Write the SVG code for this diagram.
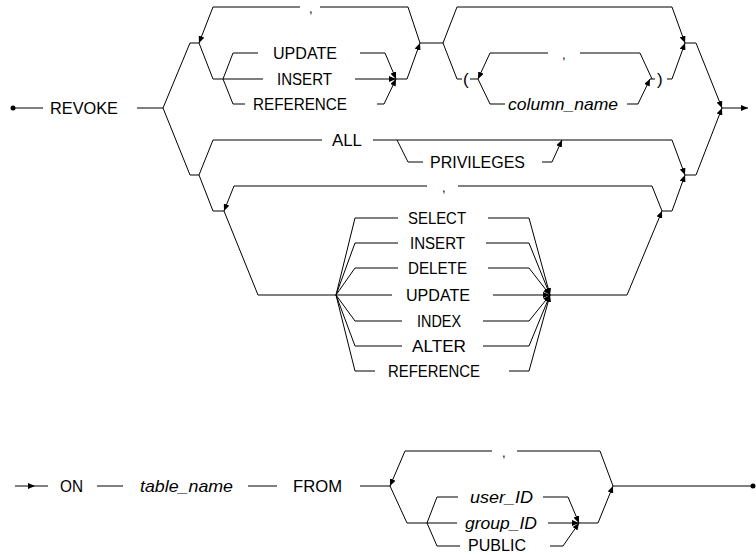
<svg xmlns="http://www.w3.org/2000/svg" width="756" height="555" viewBox="0 0 756 555">
<defs>
<marker id="ah" viewBox="0 0 7 6" refX="7" refY="3" markerWidth="7" markerHeight="6" markerUnits="userSpaceOnUse" orient="auto">
<path d="M0,0 L7,3 L0,6 z" fill="#000"/>
</marker>
</defs>
<style>
.c{fill:none;stroke:#000;stroke-width:1}
.a{marker-end:url(#ah)}
text{font-family:"Liberation Sans",Arial,sans-serif;font-size:17px;fill:#000}
.i{font-style:italic}
.cm{font-size:13px}
</style>
<rect width="756" height="555" fill="#fff"/>
<g id="connectors">
<circle cx="13" cy="108" r="2.5" fill="#000"/>
<path class="c" d="M13,108H43"/>
<path class="c" d="M137,108H163"/>
<path class="c" d="M163,108L190,43H199"/>
<path class="c" d="M420,43L408,7H320"/>
<path class="c a" d="M300,7H213L199,43"/>
<path class="c" d="M199,43L213,79H223"/>
<path class="c" d="M223,79L233,53H258"/>
<path class="c a" d="M360,53H385L396,79"/>
<path class="c" d="M223,79H263"/>
<path class="c a" d="M355,79H396"/>
<path class="c a" d="M396,79H407L420,43"/>
<path class="c" d="M223,79L233,104H245"/>
<path class="c a" d="M377,104H384L396,79"/>
<path class="c" d="M420,43H443"/>
<path class="c a" d="M443,43L457,7H672L685,43"/>
<path class="c" d="M443,43L457,79H462"/>
<path class="c" d="M470,79H478"/>
<path class="c" d="M652,79L640,53H580"/>
<path class="c a" d="M548,53H490L478,79"/>
<path class="c" d="M478,79L490,104H505"/>
<path class="c a" d="M627,104H638L650,79"/>
<path class="c" d="M650,79H655"/>
<path class="c a" d="M667,79H672L685,43"/>
<path class="c a" d="M685,43H696L722,108"/>
<path class="c a" d="M685,175H696L722,108"/>
<path class="c a" d="M722,108H748"/>
<path class="c" d="M163,108L190,175H199"/>
<path class="c" d="M199,175L213,140H322"/>
<path class="c a" d="M373,140H672L685,175"/>
<path class="c" d="M397,140L408,162H423"/>
<path class="c a" d="M542,162H552L562,140"/>
<path class="c" d="M199,175L213,211H224"/>
<path class="c" d="M662,211L652,186H458"/>
<path class="c a" d="M427,186H234L224,211"/>
<path class="c" d="M224,211L258,295H336"/>
<path class="c" d="M336,295L355,218H398"/>
<path class="c a" d="M488,218H529L550,295"/>
<path class="c" d="M336,295L355,243H398"/>
<path class="c a" d="M486,243H529L550,295"/>
<path class="c" d="M336,295L355,268H398"/>
<path class="c a" d="M488,268H529L550,295"/>
<path class="c" d="M336,295H392"/>
<path class="c a" d="M493,295H550"/>
<path class="c" d="M336,295L355,321H402"/>
<path class="c a" d="M483,321H529L550,295"/>
<path class="c" d="M336,295L355,346H402"/>
<path class="c a" d="M483,346H529L550,295"/>
<path class="c" d="M336,295L355,371H375"/>
<path class="c a" d="M509,371H529L550,295"/>
<path class="c a" d="M550,295H627L662,211"/>
<path class="c a" d="M662,211H672L685,175"/>
<path class="c a" d="M15,486H35"/>
<path class="c" d="M35,486H48"/>
<path class="c" d="M97,486H123"/>
<path class="c" d="M248,486H277"/>
<path class="c" d="M360,486H390"/>
<path class="c" d="M613,486L600,451H517"/>
<path class="c a" d="M492,451H405L390,486"/>
<path class="c" d="M390,486L407,523H427"/>
<path class="c" d="M427,523L437,497H458"/>
<path class="c a" d="M543,497H568L579,523"/>
<path class="c" d="M427,523H457"/>
<path class="c a" d="M548,523H579"/>
<path class="c a" d="M579,523H598L613,486"/>
<path class="c" d="M427,523L437,546H460"/>
<path class="c a" d="M550,546H563L579,523"/>
<path class="c" d="M613,486H753"/>
<circle cx="753" cy="486" r="2.5" fill="#000"/>
</g>
<g id="n-revoke"><text x="50" y="114" textLength="68" lengthAdjust="spacingAndGlyphs">REVOKE</text></g>
<g id="n-comma1"><text class="cm" x="309" y="13">,</text></g>
<g id="n-update1"><text x="273" y="59" textLength="64" lengthAdjust="spacingAndGlyphs">UPDATE</text></g>
<g id="n-insert1"><text x="277" y="85" textLength="55" lengthAdjust="spacingAndGlyphs">INSERT</text></g>
<g id="n-reference1"><text x="253" y="110" textLength="94" lengthAdjust="spacingAndGlyphs">REFERENCE</text></g>
<g id="n-lparen"><text x="463" y="85">(</text></g>
<g id="n-comma2"><text class="cm" x="562" y="59">,</text></g>
<g id="n-column"><text class="i" x="508" y="110" textLength="110" lengthAdjust="spacingAndGlyphs">column_name</text></g>
<g id="n-rparen"><text x="657" y="85">)</text></g>
<g id="n-all"><text x="332" y="146" textLength="30" lengthAdjust="spacingAndGlyphs">ALL</text></g>
<g id="n-privileges"><text x="430" y="168" textLength="95" lengthAdjust="spacingAndGlyphs">PRIVILEGES</text></g>
<g id="n-comma3"><text class="cm" x="442" y="192">,</text></g>
<g id="n-select"><text x="408" y="224" textLength="58" lengthAdjust="spacingAndGlyphs">SELECT</text></g>
<g id="n-insert2"><text x="410" y="249" textLength="55" lengthAdjust="spacingAndGlyphs">INSERT</text></g>
<g id="n-delete"><text x="408" y="274" textLength="59" lengthAdjust="spacingAndGlyphs">DELETE</text></g>
<g id="n-update2"><text x="406" y="301" textLength="64" lengthAdjust="spacingAndGlyphs">UPDATE</text></g>
<g id="n-index"><text x="417" y="327" textLength="44" lengthAdjust="spacingAndGlyphs">INDEX</text></g>
<g id="n-alter"><text x="412" y="352" textLength="54" lengthAdjust="spacingAndGlyphs">ALTER</text></g>
<g id="n-reference2"><text x="388" y="377" textLength="92" lengthAdjust="spacingAndGlyphs">REFERENCE</text></g>
<g id="n-on"><text x="60" y="492" textLength="23" lengthAdjust="spacingAndGlyphs">ON</text></g>
<g id="n-table"><text class="i" x="140" y="492" textLength="93" lengthAdjust="spacingAndGlyphs">table_name</text></g>
<g id="n-from"><text x="293" y="492" textLength="49" lengthAdjust="spacingAndGlyphs">FROM</text></g>
<g id="n-comma4"><text class="cm" x="502" y="457">,</text></g>
<g id="n-user"><text class="i" x="470" y="503" textLength="63" lengthAdjust="spacingAndGlyphs">user_ID</text></g>
<g id="n-group"><text class="i" x="465" y="529" textLength="72" lengthAdjust="spacingAndGlyphs">group_ID</text></g>
<g id="n-public"><text x="468" y="551" textLength="58" lengthAdjust="spacingAndGlyphs">PUBLIC</text></g>
</svg>
